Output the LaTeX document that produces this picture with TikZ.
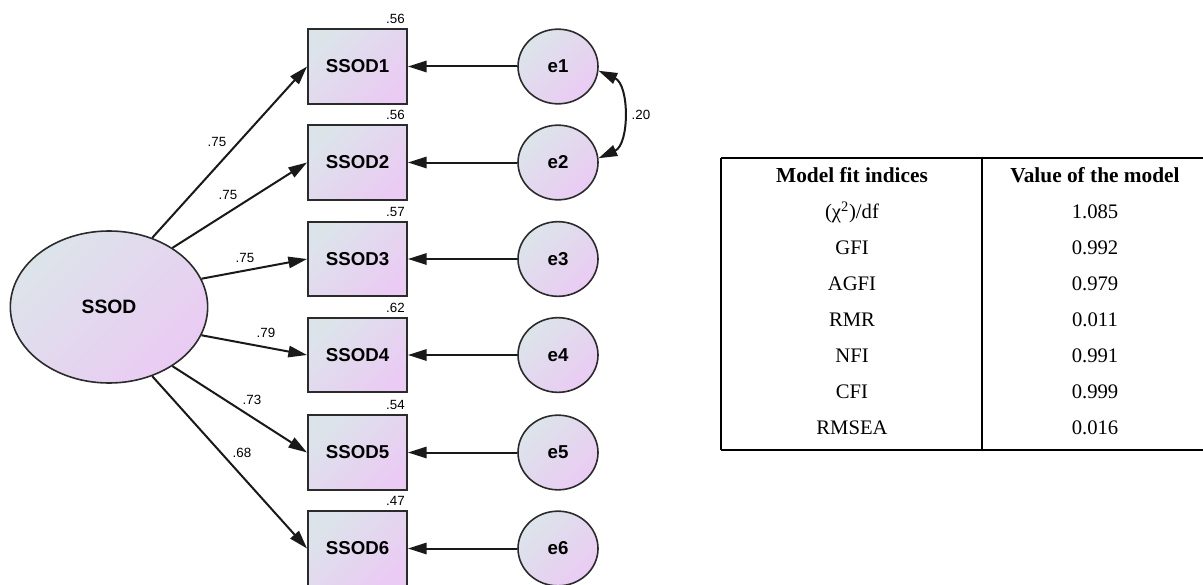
\documentclass[tikz,border=0pt]{standalone}
\usepackage{fontspec}
\setmainfont{Liberation Serif}
\setsansfont{Liberation Sans}
\usetikzlibrary{arrows.meta,shapes.geometric}
\definecolor{fillA}{HTML}{DCE4EA}
\definecolor{fillB}{HTML}{EACBF3}
\definecolor{rim}{HTML}{2B2B2B}
\begin{document}
\begin{tikzpicture}[x=0.75pt,y=-0.75pt,
  grad/.style={top color=fillA,bottom color=fillB,shading angle=45},
  obs/.style={rectangle,draw=rim,line width=1.7pt,grad,minimum width=74pt,minimum height=56pt,
    inner sep=0pt,font=\sffamily\bfseries\fontsize{14}{16}\selectfont},
  lat/.style={ellipse,draw=rim,line width=1.2pt,grad,minimum width=148pt,minimum height=114pt,
    inner sep=0pt,font=\sffamily\bfseries\fontsize{14.5}{17}\selectfont},
  err/.style={ellipse,draw=rim,line width=1.2pt,grad,minimum width=60pt,minimum height=56pt,
    inner sep=0pt,font=\sffamily\bfseries\fontsize{14}{16}\selectfont},
  tip/.tip={Triangle[length=14pt,width=8.5pt]},
  arr/.style={line width=1.5pt,draw=black!90,-tip},
  coef/.style={inner sep=0pt,font=\sffamily\fontsize{10}{12}\selectfont},
  rsq/.style={inner sep=0pt,anchor=south east,font=\sffamily\fontsize{10}{12}\selectfont},
  thead/.style={inner sep=0pt,font=\bfseries\fontsize{16}{18}\selectfont},
  tcell/.style={inner sep=0pt,font=\fontsize{15.5}{18}\selectfont},
  rule/.style={line width=1.5pt,draw=black}]
\useasboundingbox (0,0) rectangle (1203,585);
\clip (0,0) rectangle (1203,585);

% latent factor
\node[lat] (L) at (109,307) {SSOD};

% indicators, residuals and loadings (loadings leave the factor at fixed border angles)
\foreach \i/\y/\r/\ang in {1/66.5/.56/58,2/162.5/.56/43,3/259/.57/17,4/355/.62/-17,5/452.5/.54/-43,6/548.5/.47/-58}{
  \node[obs] (b\i) at (357.5,\y) {SSOD\i};
  \node[err] (e\i) at (558,\y) {e\i};
  \node[rsq] (r\i) at ([shift={(-3,-4)}]b\i.north east) {\r};
  \draw[arr] (e\i) -- (b\i);
  \draw[arr] (L.\ang) -- (b\i.west);
}

\node[coef] (c1) at (217,142) {.75};
\node[coef] (c2) at (228,195) {.75};
\node[coef] (c3) at (245,258) {.75};
\node[coef] (c4) at (266,333) {.79};
\node[coef] (c5) at (252,400) {.73};
\node[coef] (c6) at (242,453) {.68};

% residual covariance
\draw[line width=1.5pt,draw=black!90,tip-tip]
  (e1.-6) .. controls +(31,14) and +(31,-14) .. (e2.6);
\node[coef] (cov) at (641,115) {.20};

% fit table
\draw[rule] (721,158) -- (1215,158);
\draw[rule] (721,450) -- (1215,450);
\draw[rule] (721,158) -- (721,450);
\draw[rule] (982,158) -- (982,450);
\draw[rule] (1215,158) -- (1215,450);

\node[thead] (h1) at (852,175) {Model fit indices};
\node[thead] (h2) at (1095,175) {Value of the model};
\foreach \k/\y/\a/\b in {1/212/{(χ\textsuperscript{2})/df}/1.085,2/248/GFI/0.992,3/284/AGFI/0.979,
    4/320/RMR/0.011,5/356/NFI/0.991,6/392/CFI/0.999,7/428/RMSEA/0.016}{
  \node[tcell] (n\k) at (852,\y) {\a};
  \node[tcell] (v\k) at (1095,\y) {\b};
}
\end{tikzpicture}
\end{document}
